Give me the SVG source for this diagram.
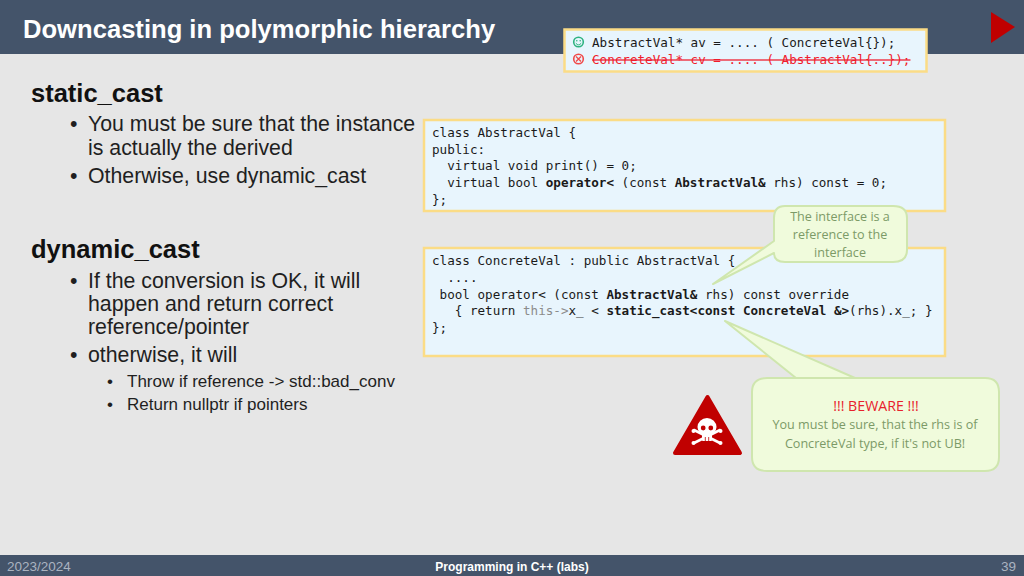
<svg xmlns="http://www.w3.org/2000/svg" width="1024" height="576" viewBox="0 0 1024 576">
<style>
text{font-family:"Liberation Sans",Arial,sans-serif;white-space:pre}
.h{font-weight:700;font-size:25.5px;fill:#111}
.l1{font-size:21.3px;fill:#1f1f1f}
.l2{font-size:17px;fill:#1f1f1f}
.c{font-family:"DejaVu Sans Mono","Liberation Mono",monospace;font-size:12.6px;fill:#1a1a1a}
.b{font-weight:700}
.box{fill:#e8f5fd;stroke:#fbdc86;stroke-width:2.5}
.co{font-family:"Open Sans","Noto Sans",sans-serif;font-size:12.6px;fill:#7c9a67;text-anchor:middle}
.callout{fill:#f0fbdc;stroke:#cfe6ae;stroke-width:2;stroke-linejoin:round}
.foot{font-size:13.5px;fill:#aab3c0}
</style>
<rect width="1024" height="576" fill="#e6e6e6"/>
<g id="header">
<rect width="1024" height="54" fill="#44546a"/>
<text x="23" y="38" font-size="25.6" font-weight="700" fill="#fff">Downcasting in polymorphic hierarchy</text>
<polygon points="991,12 1015,27 991,43" fill="#c00000"/>
</g>
<g id="top-note">
<rect class="box" x="564.500" y="29.500" width="362" height="42"/>
<circle cx="578.500" cy="42" r="4.800" fill="none" stroke="#2fb380" stroke-width="1.600"/>
<circle cx="576.800" cy="40.800" r=".8" fill="#2fb380"/><circle cx="580.200" cy="40.800" r=".8" fill="#2fb380"/>
<path d="M575.800 43.200Q578.500 46.500 581.200 43.200" fill="none" stroke="#2fb380"/>
<circle cx="578.500" cy="59" r="4.800" fill="none" stroke="#f04a4a" stroke-width="1.600"/>
<path d="M576 56.500L581 61.500M581 56.500L576 61.500" stroke="#f04a4a" stroke-width="1.300"/>
<text class="c" x="592" y="47">AbstractVal* av = .... ( ConcreteVal{});</text>
<text class="c" x="592" y="64" style="fill:#f01c2c" text-decoration="line-through">ConcreteVal* cv = .... ( AbstractVal{..});</text>
</g>
<g id="left-text">
<text class="h" x="31" y="102">static_cast</text>
<text class="l1" x="70" y="131">•</text><text class="l1" x="88" y="131">You must be sure that the instance</text>
<text class="l1" x="88" y="155">is actually the derived</text>
<text class="l1" x="70" y="183">•</text><text class="l1" x="88" y="183">Otherwise, use dynamic_cast</text>
<text class="h" x="31" y="258">dynamic_cast</text>
<text class="l1" x="70" y="288">•</text><text class="l1" x="88" y="288">If the conversion is OK, it will</text>
<text class="l1" x="88" y="311">happen and return correct</text>
<text class="l1" x="88" y="334">reference/pointer</text>
<text class="l1" x="70" y="362">•</text><text class="l1" x="88" y="362">otherwise, it will</text>
<text class="l2" x="107" y="387">•</text><text class="l2" x="127" y="387">Throw if reference -&gt; std::bad_conv</text>
<text class="l2" x="107" y="410">•</text><text class="l2" x="127" y="410">Return nullptr if pointers</text>
</g>
<g id="abstract-code">
<rect class="box" x="424" y="120" width="521" height="91"/>
<text class="c" x="432" y="137">class AbstractVal {</text>
<text class="c" x="432" y="154">public:</text>
<text class="c" x="432" y="170">  virtual void print() = 0;</text>
<text class="c" x="432" y="187">  virtual bool <tspan class="b">operator&lt;</tspan> (const <tspan class="b">AbstractVal&amp;</tspan> rhs) const = 0;</text>
<text class="c" x="432" y="204">};</text>
</g>
<g id="concrete-code">
<rect class="box" x="424" y="248" width="521" height="108"/>
<text class="c" x="432" y="265">class ConcreteVal : public AbstractVal {</text>
<text class="c" x="432" y="282">  ....</text>
<text class="c" x="432" y="299"> bool operator&lt; (const <tspan class="b">AbstractVal&amp;</tspan> rhs) const override</text>
<text class="c" x="432" y="315">   { return <tspan fill="#8c8c8c">this-&gt;</tspan>x_ &lt; <tspan class="b">static_cast&lt;const ConcreteVal &amp;&gt;</tspan>(rhs).x_; }</text>
<text class="c" x="432" y="332">};</text>
</g>
<g id="interface-callout">
<path class="callout" d="M785 206H893Q907 206 907 218V250Q907 262 893 262H785Q774 262 774 253L713 284L774 241V218Q774 206 785 206Z"/>
<text class="co" x="840" y="221">The interface is a</text>
<text class="co" x="840" y="239">reference to the</text>
<text class="co" x="840" y="257">interface</text>
</g>
<g id="beware-callout">
<path class="callout" d="M774 378H985Q999 378 999 392V457Q999 471 985 471H767Q752 471 752 457V392Q752 378 767 378H796L725 321L855 378Z"/>
<text class="co" x="876" y="411" style="fill:#e8212b;font-size:14.2px">!!! BEWARE !!!</text>
<text class="co" x="875" y="429">You must be sure, that the rhs is of</text>
<text class="co" x="875" y="448">ConcreteVal type, if it's not UB!</text>
</g>
<g id="skull-icon">
<path d="M707.500 397L740 453H675Z" fill="#c00000" stroke="#c00000" stroke-width="4" stroke-linejoin="round"/>
<path d="M694 430L720 443M720 430L694 443" stroke="#fff" stroke-width="2.600" stroke-linecap="round"/>
<circle cx="693.500" cy="431" r="2" fill="#fff"/><circle cx="720.500" cy="431" r="2" fill="#fff"/>
<circle cx="693.500" cy="443" r="2" fill="#fff"/><circle cx="720.500" cy="443" r="2" fill="#fff"/>
<ellipse cx="707" cy="427" rx="9.500" ry="9" fill="#fff"/>
<rect x="702" y="432" width="10" height="9" rx="1" fill="#fff"/>
<circle cx="703.200" cy="428" r="2.400" fill="#c00000"/><circle cx="710.800" cy="428" r="2.400" fill="#c00000"/>
<path d="M705.300 437V441M708.700 437V441" stroke="#c00000" stroke-width=".8"/>
</g>
<g id="footer">
<rect y="555" width="1024" height="21" fill="#44546a"/>
<text class="foot" x="7" y="571">2023/2024</text>
<text x="512" y="571" font-size="12" font-weight="700" fill="#fff" text-anchor="middle">Programming in C++ (labs)</text>
<text class="foot" x="1016" y="571" text-anchor="end">39</text>
</g>
</svg>
